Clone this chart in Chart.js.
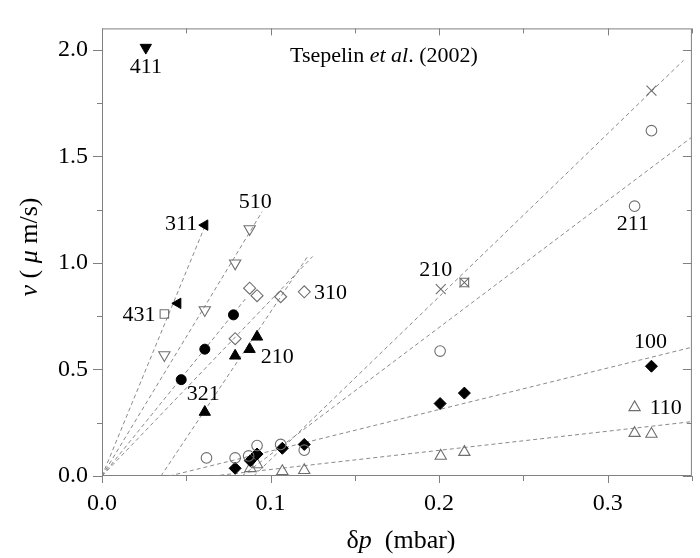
<!DOCTYPE html>
<html><head><meta charset="utf-8">
<script src="https://cdn.jsdelivr.net/npm/chart.js@4/dist/chart.umd.min.js"></script>
<style>html,body{margin:0;padding:0;background:#fff}</style>
</head><body>
<canvas id="c" width="700" height="558"></canvas>
<script>
// ---- tick labels ----
const xTickLabels = ['0.0','0.1','0.2','0.3'];
const yTickLabels = ['0.0','0.5','1.0','1.5','2.0'];

// ---- data points [δp (mbar), v (µm/s)] ----
const ptsDownTriFilled = [[0.026,2.01]];                                   // 411
const ptsLeftTriFilled = [[0.045,0.81],[0.061,1.177]];                     // 311
const ptsOpenSquare    = [[0.037,0.76],[0.215,0.908]];                     // 431 (+ boxed 210)
const ptsOpenDownTri   = [[0.037,0.568],[0.061,0.779],[0.079,0.998],[0.0876,1.159]]; // 510
const ptsFilledCircle  = [[0.047,0.452],[0.061,0.595],[0.078,0.756]];      // 321
const ptsOpenDiamond   = [[0.079,0.644],[0.0876,0.881],[0.092,0.846],[0.106,0.841],[0.12,0.864]]; // 310
const ptsFilledTri     = [[0.061,0.30],[0.079,0.564],[0.0876,0.595],[0.092,0.653]]; // 210
const ptsCross         = [[0.201,0.877],[0.215,0.908],[0.326,1.808]];      // 210
const ptsOpenCircle    = [[0.062,0.085],[0.079,0.085],[0.087,0.094],[0.092,0.143],[0.106,0.148],[0.12,0.121],[0.2006,0.586],[0.316,1.266],[0.326,1.62]]; // 211
const ptsFilledDiamond = [[0.079,0.036],[0.088,0.072],[0.092,0.103],[0.107,0.13],[0.12,0.148],[0.2006,0.34],[0.215,0.389],[0.326,0.515]]; // 100
const ptsOpenTri       = [[0.088,0.036],[0.092,0.054],[0.107,0.022],[0.12,0.027],[0.201,0.094],[0.215,0.112],[0.316,0.201],[0.316,0.322],[0.326,0.197]]; // 110

// ---- fitted dashed lines (end points) ----
const fit311  = [[0,0],[0.062,1.19]];
const fit510  = [[0,0],[0.095,1.24]];
const fit321  = [[0,0],[0.085,0.83]];
const fit310  = [[0,0],[0.125,1.03]];
const fit210a = [[0.035,0],[0.122,1.03]];
const fit210b = [[0.09,0],[0.345,1.95]];
const fit211  = [[0.083,0],[0.35,1.59]];
const fit100  = [[0.04,0],[0.35,0.604]];
const fit110  = [[0.066,0],[0.35,0.255]];

// ---- annotation labels ----
const labelTexts = ['411','510','311','431','210','321','310','210','211','100','110'];
const labelPos   = [[0.026,1.92],[0.091,1.285],[0.047,1.18],[0.022,0.755],[0.104,0.555],[0.06,0.385],[0.1355,0.857],[0.198,0.965],[0.315,1.18],[0.3255,0.63],[0.3345,0.32]];

const toXY = a => a.map(p => ({x:p[0], y:p[1]}));
const GREY = '#6e6e6e';
function pts(data, style, filled, radius, rotation) {
  return {data: toXY(data), showLine:false, pointStyle:style, pointRadius:radius, pointHoverRadius:radius,
    pointRotation: rotation||0, pointBorderWidth: filled?1:1.1,
    pointBorderColor: filled?'#000':GREY, pointBackgroundColor: filled?'#000':'rgba(255,255,255,0)', order:1};
}
function fit(data) {
  return {data: toXY(data), showLine:true, pointRadius:0, borderColor:'#8a8a8a', borderWidth:1, borderDash:[4,3], fill:false, order:2};
}

const datasets = [
  pts(ptsDownTriFilled,'triangle',true,6.5,180),
  pts(ptsLeftTriFilled,'triangle',true,6,270),
  pts(ptsOpenSquare,'rect',false,6),
  pts(ptsOpenDownTri,'triangle',false,6.5,180),
  pts(ptsFilledCircle,'circle',true,5),
  pts(ptsOpenDiamond,'rectRot',false,6),
  pts(ptsFilledTri,'triangle',true,6.5),
  pts(ptsCross,'crossRot',false,7),
  pts(ptsOpenCircle,'circle',false,5.3),
  pts(ptsFilledDiamond,'rectRot',true,6),
  pts(ptsOpenTri,'triangle',false,6.5),
  fit(fit311), fit(fit510), fit(fit321), fit(fit310), fit(fit210a), fit(fit210b), fit(fit211), fit(fit100), fit(fit110)
];

const SERIF = '"Liberation Serif", "DejaVu Serif", serif';

function drawRuns(ctx, runs, x, y, align) {
  let total = 0;
  runs.forEach(r => { ctx.font = r.font; total += ctx.measureText(r.t).width; });
  let cx = align === 'center' ? x - total/2 : (align === 'right' ? x - total : x);
  ctx.textAlign = 'left';
  runs.forEach(r => { ctx.font = r.font; ctx.fillText(r.t, cx, y); cx += ctx.measureText(r.t).width; });
}

const decor = {
  id:'decor',
  beforeDatasetsDraw(chart) {
    const {ctx, chartArea:a, scales:{x, y}} = chart;
    ctx.save();
    ctx.strokeStyle = '#808080'; ctx.lineWidth = 1;
    ctx.strokeRect(a.left+0.5, a.top+0.5, a.right-a.left-1, a.bottom-a.top-1);
    ctx.beginPath();
    for (let i = 0; i <= 7; i++) {
      const v = i*0.05, px = Math.round(x.getPixelForValue(v))+0.5, L = (i%2===0)?7:5;
      ctx.moveTo(px, a.bottom); ctx.lineTo(px, a.bottom+L);       // bottom outward
      ctx.moveTo(px, a.top); ctx.lineTo(px, a.top+L);             // top inward
    }
    for (let i = 0; i <= 8; i++) {
      const v = i*0.25, py = Math.round(y.getPixelForValue(v))+0.5, L = (i%2===0)?9:5;
      ctx.moveTo(a.left, py); ctx.lineTo(a.left-L, py);           // left outward
      ctx.moveTo(a.right, py); ctx.lineTo(a.right-L, py);         // right inward
    }
    ctx.stroke();
    ctx.restore();
  },
  afterDatasetsDraw(chart) {
    const {ctx, scales:{x, y}} = chart;
    ctx.save();
    ctx.fillStyle = '#000';
    ctx.textBaseline = 'middle';
    ctx.font = '22px ' + SERIF;
    ctx.textAlign = 'center';
    labelTexts.forEach((t, i) => {
      ctx.fillText(t, x.getPixelForValue(labelPos[i][0]), y.getPixelForValue(labelPos[i][1]));
    });
    ctx.textBaseline = 'alphabetic';
    drawRuns(ctx, [{t:'Tsepelin ', font:'22px '+SERIF},{t:'et al', font:'italic 22px '+SERIF},{t:'. (2002)', font:'22px '+SERIF}], 290, 62, 'left');
    // x title
    drawRuns(ctx, [{t:'δ', font:'26px '+SERIF},{t:'p', font:'italic 26px '+SERIF},{t:'  (mbar)', font:'26px '+SERIF}], 401, 548, 'center');
    // y title
    ctx.translate(37, 247); ctx.rotate(-Math.PI/2);
    drawRuns(ctx, [{t:'ν', font:'italic 26px '+SERIF},{t:' ( ', font:'26px '+SERIF},{t:'μ', font:'italic 26px '+SERIF},{t:' m/s)', font:'26px '+SERIF}], 0, 0, 'center');
    ctx.restore();
  }
};

new Chart(document.getElementById('c'), {
  type:'scatter',
  data:{datasets},
  plugins:[decor],
  options:{
    responsive:false, animation:false, devicePixelRatio:1,
    layout:{padding:{top:7,right:3,left:0,bottom:0}},
    plugins:{legend:{display:false}, tooltip:{enabled:false}},
    scales:{
      x:{type:'linear', min:0, max:0.35,
        grid:{display:false, drawTicks:false}, border:{display:false},
        ticks:{stepSize:0.1, includeBounds:false, padding:13, color:'#000', font:{family:SERIF, size:24},
          callback:(v)=>{ const i = Math.round(v*10); return Math.abs(v*10-i)<1e-6 ? xTickLabels[i] : ''; }},
        afterFit:(s)=>{ s.height = 82; }},
      y:{type:'linear', min:0, max:2.1,
        grid:{display:false, drawTicks:false}, border:{display:false},
        ticks:{stepSize:0.5, includeBounds:false, padding:14, color:'#000', font:{family:SERIF, size:24},
          callback:(v)=>{ const i = Math.round(v*2); return Math.abs(v*2-i)<1e-6 ? yTickLabels[i] : ''; }},
        afterFit:(s)=>{ s.width = 102; }}
    }
  }
});
</script>
</body></html>
